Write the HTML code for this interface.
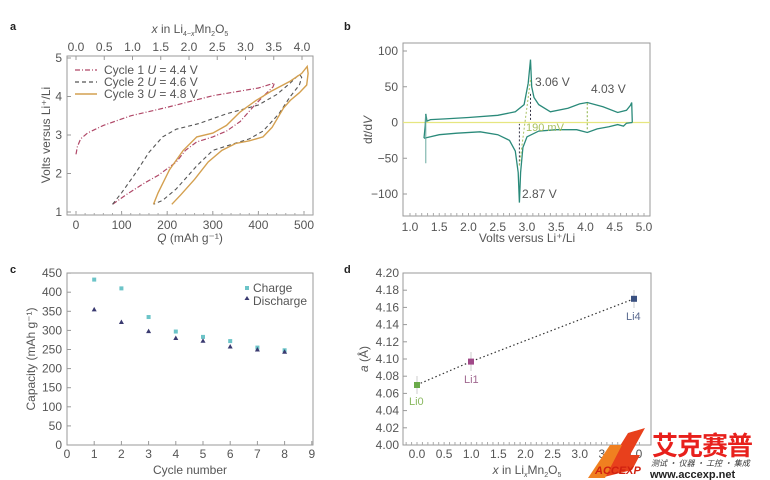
<!DOCTYPE html>
<html><head><meta charset="utf-8"><style>
html,body{margin:0;padding:0;background:#fff;width:770px;height:480px;overflow:hidden}
svg{display:block;font-family:"Liberation Sans","Noto Sans CJK SC",sans-serif}
.t{font-size:12px;fill:#555}
.ax{fill:none;stroke:#999;stroke-width:1}
</style></head><body>
<svg id="s" width="770" height="480" viewBox="0 0 770 480">
<text x="10" y="30" font-size="11" font-weight="bold" fill="#222">a</text>
<text x="344" y="30" font-size="11" font-weight="bold" fill="#222">b</text>
<text x="10" y="273" font-size="11" font-weight="bold" fill="#222">c</text>
<text x="344" y="273" font-size="11" font-weight="bold" fill="#222">d</text>

<rect class="ax" x="67" y="56" width="246" height="159"/>
<g id="aticks"></g>
<text class="t" x="190" y="33" text-anchor="middle" font-size="11"><tspan font-style="italic">x</tspan> in Li<tspan font-size="7" dy="3">4−<tspan font-style="italic">x</tspan></tspan><tspan dy="-3">Mn</tspan><tspan font-size="7" dy="3">2</tspan><tspan dy="-3">O</tspan><tspan font-size="7" dy="3">5</tspan></text>
<text class="t" x="190" y="242" text-anchor="middle"><tspan font-style="italic">Q</tspan> (mAh g⁻¹)</text>
<text class="t" transform="translate(50,135) rotate(-90)" text-anchor="middle">Volts versus Li⁺/Li</text>
<g id="apaths"></g>
<line x1="75" y1="70" x2="97" y2="70" stroke="#b04868" stroke-width="1.2" stroke-dasharray="5,2,1,2"/>
<line x1="75" y1="82" x2="97" y2="82" stroke="#555" stroke-width="1.2" stroke-dasharray="4,3"/>
<line x1="75" y1="94" x2="97" y2="94" stroke="#d4a050" stroke-width="1.5"/>
<text class="t" x="104" y="74">Cycle 1  <tspan font-style="italic">U</tspan> = 4.4 V</text>
<text class="t" x="104" y="86">Cycle 2  <tspan font-style="italic">U</tspan> = 4.6 V</text>
<text class="t" x="104" y="98">Cycle 3  <tspan font-style="italic">U</tspan> = 4.8 V</text>

<rect class="ax" x="403" y="43" width="247" height="173"/>
<g id="bticks"></g>
<line x1="403" y1="122.5" x2="650" y2="122.5" stroke="#e6e680" stroke-width="1.2"/>
<g id="bpaths"></g>
<text class="t" x="535" y="86" font-size="11">3.06 V</text>
<text class="t" x="591" y="93" font-size="11">4.03 V</text>
<text x="526" y="131" font-size="11" fill="#a8c060">190 mV</text>
<text class="t" x="522" y="198" font-size="11">2.87 V</text>
<text class="t" x="527" y="242" text-anchor="middle">Volts versus Li⁺/Li</text>
<text class="t" transform="translate(372,130) rotate(-90)" text-anchor="middle">d<tspan font-style="italic">t</tspan>/d<tspan font-style="italic">V</tspan></text>

<rect class="ax" x="67" y="273" width="246" height="172"/>
<g id="cticks"></g>
<g id="cpts"></g>
<rect x="245" y="286" width="4" height="4" fill="#6cc4c8"/>
<path d="M247 296 l2.5 4 h-5z" fill="#3a3a70"/>
<text class="t" x="253" y="292">Charge</text>
<text class="t" x="253" y="305">Discharge</text>
<text class="t" x="190" y="474" text-anchor="middle">Cycle number</text>
<text class="t" transform="translate(35,359) rotate(-90)" text-anchor="middle">Capacity (mAh g⁻¹)</text>

<rect class="ax" x="403" y="273" width="248" height="172"/>
<g id="dticks"></g>
<path d="M417 384.8 L471 361.6 L634 298.8" stroke="#333" stroke-width="1.2" stroke-dasharray="1.5,2.5" fill="none"/>
<line x1="417" y1="376" x2="417" y2="394" stroke="#ccc"/>
<line x1="471" y1="352" x2="471" y2="371" stroke="#ccc"/>
<line x1="634" y1="290" x2="634" y2="308" stroke="#ccc"/>
<rect x="414" y="382" width="6" height="6" fill="#6aaa4a"/>
<rect x="468" y="358.6" width="6" height="6" fill="#a04888"/>
<rect x="631" y="295.8" width="6" height="6" fill="#3a5080"/>
<text x="409" y="405" font-size="11" fill="#8ab860">Li0</text>
<text x="464" y="383" font-size="11" fill="#a06890">Li1</text>
<text x="626" y="320" font-size="11" fill="#5a6a90">Li4</text>
<text class="t" x="527" y="474" text-anchor="middle" font-size="11"><tspan font-style="italic">x</tspan> in Li<tspan font-size="7" dy="3" font-style="italic">x</tspan><tspan dy="-3">Mn</tspan><tspan font-size="7" dy="3">2</tspan><tspan dy="-3">O</tspan><tspan font-size="7" dy="3">5</tspan></text>
<text class="t" transform="translate(368,359) rotate(-90)" text-anchor="middle"><tspan font-style="italic">a</tspan> (Å)</text>

<path d="M600 478 L628 433 L645 428 L630 455 L640 455 L632 470 Z" fill="#e8401c"/>
<path d="M588 478 L610 445 L622 445 L605 478 Z" fill="#f08020"/>
<text x="595" y="474" font-size="11" font-style="italic" font-weight="bold" fill="#d02010">ACCEXP</text>
<text x="652" y="455" font-size="26" font-weight="bold" fill="#e8201c" font-family="'Noto Sans CJK SC',sans-serif" letter-spacing="-1">艾克赛普</text>
<text x="651" y="466" font-size="8" font-style="italic" fill="#333" font-family="'Noto Sans CJK SC',sans-serif">测试 · 仪器 · 工控 · 集成</text>
<text x="650" y="478" font-size="11" font-weight="bold" fill="#222">www.accexp.net</text>
</svg>
<script>
var NS="http://www.w3.org/2000/svg";
function el(p,n,a,txt){var e=document.createElementNS(NS,n);for(var k in a)e.setAttribute(k,a[k]);if(txt!=null)e.textContent=txt;document.getElementById(p).appendChild(e);return e;}
function path(p,pts,fx,fy,st){var d=pts.map(function(q,i){return (i?"L":"M")+fx(q[0]).toFixed(1)+" "+fy(q[1]).toFixed(1)}).join(" ");st.d=d;st.fill="none";el(p,"path",st);}
var ax=function(q){return 76+q*0.456},ay=function(v){return 212-(v-1)*38.5};
[0,100,200,300,400,500].forEach(function(q){el("aticks","text",{"class":"t",x:ax(q),y:229,"text-anchor":"middle"},q);el("aticks","line",{x1:ax(q),x2:ax(q),y1:215,y2:211,stroke:"#999"})});
for(var q=0;q<=520;q+=20)el("aticks","line",{x1:ax(q),x2:ax(q),y1:215,y2:213,stroke:"#aaa"});
[1,2,3,4,5].forEach(function(v){el("aticks","text",{"class":"t",x:62,y:ay(v)+4,"text-anchor":"end"},v);el("aticks","line",{x1:67,x2:71,y1:ay(v),y2:ay(v),stroke:"#999"})});
for(var i=0;i<=8;i++){var x=76+i*28.25;el("aticks","text",{"class":"t",x:x,y:51,"text-anchor":"middle"},(i*0.5).toFixed(1));el("aticks","line",{x1:x,x2:x,y1:56,y2:60,stroke:"#999"})}
path("apaths",[[0,2.5],[3,2.7],[10,2.9],[25,3.05],[60,3.25],[120,3.5],[200,3.72],[300,4.02],[400,4.22],[435,4.35],[432,4.25],[410,4.0],[390,3.75],[360,3.35],[330,3.1],[300,2.95],[265,2.82],[240,2.6],[220,2.3],[180,1.95],[150,1.75],[110,1.45],[80,1.2]],ax,ay,{stroke:"#b04868","stroke-width":1.2,"stroke-dasharray":"5,2,1,2"});
path("apaths",[[80,1.2],[100,1.5],[130,2.0],[160,2.55],[190,2.95],[220,3.15],[270,3.3],[330,3.55],[400,3.78],[440,4.05],[470,4.35],[490,4.58],[495,4.5],[490,4.3],[470,4.0],[445,3.55],[410,3.1],[380,2.9],[340,2.75],[300,2.6],[265,2.2],[220,1.6],[190,1.3],[170,1.2]],ax,ay,{stroke:"#555","stroke-width":1.1,"stroke-dasharray":"4,3"});
path("apaths",[[170,1.2],[180,1.5],[205,2.1],[235,2.6],[265,2.95],[300,3.05],[330,3.25],[360,3.6],[395,3.9],[430,4.15],[470,4.4],[495,4.6],[507,4.78],[509,4.6],[506,4.3],[490,4.1],[470,3.9],[455,3.7],[430,3.2],[410,2.95],[380,2.85],[350,2.78],[320,2.6],[290,2.3],[260,1.85],[230,1.45],[210,1.2]],ax,ay,{stroke:"#d4a050","stroke-width":1.4});
var bx=function(v){return 410+(v-1)*58.5},by=function(d){return 122.5-d*0.715};
for(var i=0;i<=8;i++){var v=1+i*0.5;el("bticks","text",{"class":"t",x:bx(v),y:231,"text-anchor":"middle"},v.toFixed(1));}
for(var v=1;v<=5.001;v+=0.1)el("bticks","line",{x1:bx(v),x2:bx(v),y1:216,y2:213,stroke:"#aaa"});
[100,50,0,-50,-100].forEach(function(d){el("bticks","text",{"class":"t",x:398,y:by(d)+4,"text-anchor":"end"},d<0?"−"+(-d):d);el("bticks","line",{x1:403,x2:407,y1:by(d),y2:by(d),stroke:"#999"})});
var g={stroke:"#2a8a7a","stroke-width":1.3};
path("bpaths",[[1.24,-22],[1.26,-5],[1.27,12],[1.29,2],[1.35,4],[1.6,5],[2.0,7],[2.5,10],[2.8,15],[2.95,25],[3.02,55],[3.06,88],[3.08,50],[3.12,35],[3.2,25],[3.4,15],[3.7,20],[3.9,26],[4.03,28],[4.3,22],[4.55,14],[4.7,17],[4.77,24],[4.79,28],[4.8,0]],bx,by,g);
path("bpaths",[[4.8,0],[4.7,-1],[4.65,-5],[4.55,-3],[4.4,-6],[4.2,-9],[4.03,-14],[3.85,-10],[3.5,-10],[3.2,-12],[3.0,-20],[2.93,-35],[2.89,-70],[2.87,-112],[2.85,-70],[2.8,-40],[2.7,-25],[2.5,-17],[2.2,-13],[1.8,-15],[1.5,-17],[1.35,-20],[1.24,-22]],bx,by,g);
el("bpaths","line",{x1:bx(1.27),x2:bx(1.27),y1:by(10),y2:by(-57),stroke:"#6aaaa0","stroke-width":1});
el("bpaths","line",{x1:bx(3.06),x2:bx(3.06),y1:by(40),y2:by(2),stroke:"#334","stroke-width":1,"stroke-dasharray":"2,2"});
el("bpaths","line",{x1:bx(2.87),x2:bx(2.87),y1:by(-60),y2:by(-2),stroke:"#334","stroke-width":1,"stroke-dasharray":"2,2"});
el("bpaths","line",{x1:bx(2.87),x2:bx(3.06),y1:by(-60),y2:by(60),stroke:"#a8c060","stroke-width":1,"stroke-dasharray":"2,2"});
el("bpaths","line",{x1:bx(4.03),x2:bx(4.03),y1:by(27),y2:by(-12),stroke:"#8ab040","stroke-width":1,"stroke-dasharray":"2,2"});
var cx=function(n){return 67+n*27.2},cy=function(c){return 445-c*0.382};
for(var n=0;n<=9;n++){el("cticks","text",{"class":"t",x:cx(n),y:458,"text-anchor":"middle"},n);el("cticks","line",{x1:cx(n),x2:cx(n),y1:445,y2:441,stroke:"#999"})}
for(var c=0;c<=450;c+=50){el("cticks","text",{"class":"t",x:62,y:cy(c)+4,"text-anchor":"end"},c);el("cticks","line",{x1:67,x2:71,y1:cy(c),y2:cy(c),stroke:"#999"})}
[433,410,335,297,283,272,255,248].forEach(function(c,i){el("cpts","rect",{x:cx(i+1)-2,y:cy(c)-2,width:4,height:4,fill:"#6cc4c8"})});
[355,322,298,280,273,258,250,244].forEach(function(c,i){var x=cx(i+1),y=cy(c);el("cpts","path",{d:"M"+x+" "+(y-2.5)+" l2.5 4.5 h-5z",fill:"#3a3a70"})});
var dx=function(x){return 417+x*54.25},dy=function(a){return 445-(a-4)*860};
for(var i=0;i<=8;i++){var x=i*0.5;el("dticks","text",{"class":"t",x:dx(x),y:458,"text-anchor":"middle"},x.toFixed(1));}
for(var x=-0.2;x<=4.2;x+=0.1)el("dticks","line",{x1:dx(x),x2:dx(x),y1:445,y2:442,stroke:"#aaa"});
for(var i=0;i<=10;i++){var a=4+i*0.02;el("dticks","text",{"class":"t",x:399,y:dy(a)+4,"text-anchor":"end"},a.toFixed(2));el("dticks","line",{x1:403,x2:407,y1:dy(a),y2:dy(a),stroke:"#999"})}
</script>
</body></html>
